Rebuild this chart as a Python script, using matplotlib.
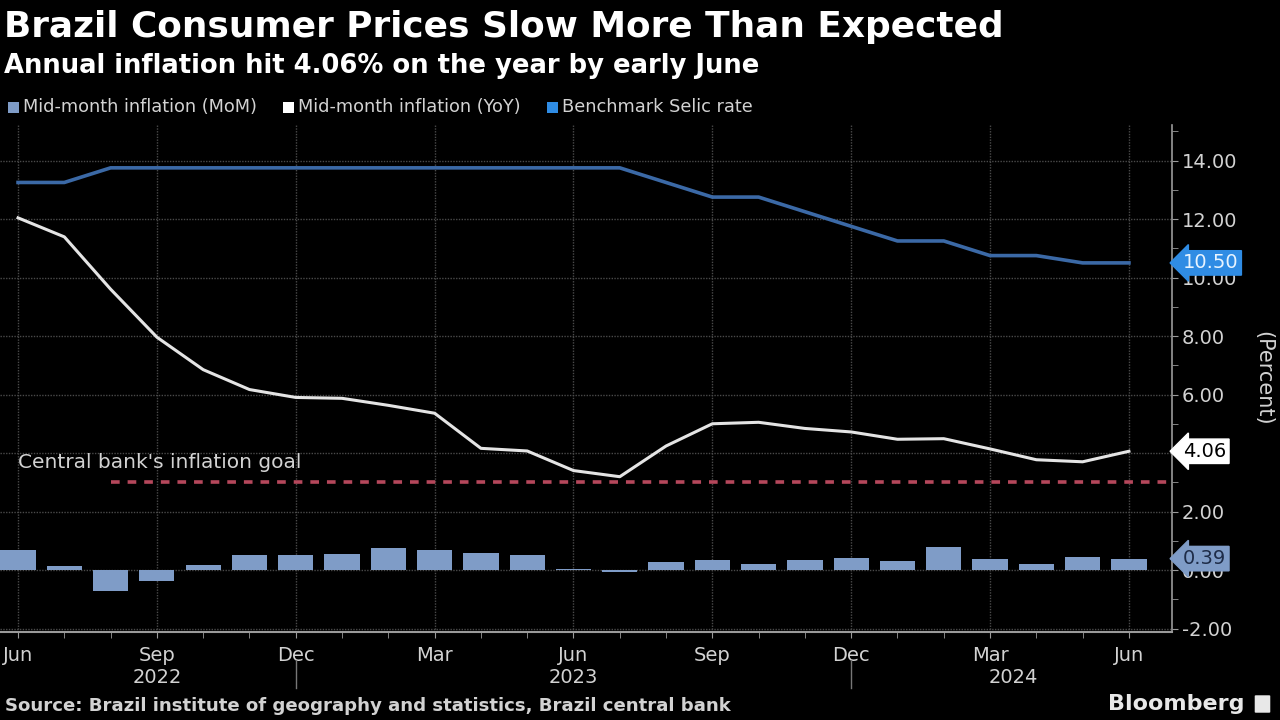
import matplotlib
matplotlib.use('Agg')
import matplotlib.pyplot as plt
import matplotlib.transforms as mtrans
from matplotlib.patches import Rectangle, FancyBboxPatch

# monthly data, Jun 2022 .. Jun 2024
months = ['Jun', 'Jul', 'Aug', 'Sep', 'Oct', 'Nov', 'Dec',
          'Jan', 'Feb', 'Mar', 'Apr', 'May', 'Jun', 'Jul', 'Aug', 'Sep', 'Oct', 'Nov', 'Dec',
          'Jan', 'Feb', 'Mar', 'Apr', 'May', 'Jun']
mom = [0.69, 0.13, -0.73, -0.37, 0.16, 0.53, 0.52, 0.55, 0.76, 0.69, 0.57, 0.51,
       0.04, -0.07, 0.28, 0.35, 0.21, 0.33, 0.40, 0.31, 0.78, 0.36, 0.21, 0.44, 0.39]
yoy = [12.04, 11.39, 9.60, 7.96, 6.85, 6.17, 5.90, 5.87, 5.63, 5.36, 4.16, 4.07,
       3.40, 3.19, 4.24, 5.00, 5.05, 4.84, 4.72, 4.47, 4.49, 4.14, 3.77, 3.70, 4.06]
selic = [13.25, 13.25, 13.75, 13.75, 13.75, 13.75, 13.75, 13.75, 13.75, 13.75, 13.75, 13.75,
         13.75, 13.75, 13.25, 12.75, 12.75, 12.25, 11.75, 11.25, 11.25, 10.75, 10.75, 10.50, 10.50]
goal = 3.0
years = [('2022', 3), ('2023', 12), ('2024', 21.5)]
year_breaks = [6, 18]
yticks = [-2, 0, 2, 4, 6, 8, 10, 12, 14]

bg = 'black'
c_bar = '#7f9cc7'
c_yoy = '#e4e4e4'
c_selic = '#3b69a6'
c_selic_tag = '#2f8ce4'
c_goal = '#b5475b'
c_grid = '#4a4a4a'
c_text = '#d2d2d2'

x = list(range(len(months)))

fig = plt.figure(figsize=(12.8, 7.2), dpi=100, facecolor=bg)
ax = fig.add_axes([0.0, 0.1222, 0.9156, 0.704], facecolor=bg)

ax.bar(x, mom, width=0.76, color=c_bar, zorder=2)
ax.plot(x, yoy, color=c_yoy, lw=2.2, zorder=3)
ax.plot(x, selic, color=c_selic, lw=2.6, zorder=3)
ax.hlines(goal, 2, 25, colors=c_goal, lw=2.6, linestyles=(0, (2.4, 2.2)), zorder=2)
ax.text(0, 3.69, "Central bank's inflation goal", color=c_text, fontsize=14.5,
        va='center', ha='left', zorder=4)

ax.set_xlim(-0.39, 24.93)
ax.set_ylim(-2.12, 15.21)

# axes styling
for s in ['left', 'top']:
    ax.spines[s].set_visible(False)
ax.spines['right'].set_color('#9a9a9a')
ax.spines['bottom'].set_color('#9a9a9a')
ax.spines['right'].set_linewidth(1.2)
ax.spines['bottom'].set_linewidth(1.5)

ax.yaxis.tick_right()
ax.set_yticks(yticks)
# 4.00 sits fully under the 4.06 tag in the original
ax.set_yticklabels(['' if v == 4 else '%.2f' % v for v in yticks])
ax.set_yticks(range(-1, 16, 2), minor=True)
ax.tick_params(axis='y', which='both', colors='#9a9a9a', labelcolor=c_text,
               labelsize=14, length=4, pad=3)
ax.yaxis.set_label_position('right')
ax.set_ylabel('(Percent)', color=c_text, fontsize=15, rotation=-90, labelpad=26)

major_x = list(range(0, 25, 3))
ax.set_xticks(major_x)
ax.set_xticklabels([months[i] for i in major_x])
ax.set_xticks(x, minor=True)
ax.tick_params(axis='x', which='both', colors='#9a9a9a', labelcolor=c_text,
               labelsize=14, length=4, pad=6)

ax.grid(True, which='major', color=c_grid, lw=1.0, ls=(0, (1, 1)), zorder=0)

trans = mtrans.blended_transform_factory(ax.transData, ax.transAxes)
for label, pos in years:
    ax.text(pos, -0.089, label, transform=trans, color=c_text, fontsize=14,
            ha='center', va='center')
for b in year_breaks:
    ax.plot([b, b], [-0.055, -0.11], transform=trans, color='#777777', lw=1, clip_on=False)

# value tags on the right axis
tags = [(selic[-1], c_selic_tag, '#e8f4ff'), (yoy[-1], 'white', 'black'), (mom[-1], c_bar, '#1e2c48')]
for val, fc, tc in tags:
    ax.annotate('%.2f' % val, xy=(1.0, val), xycoords=('axes fraction', 'data'),
                xytext=(8, 0), textcoords='offset points', ha='left', va='center',
                fontsize=14, color=tc, zorder=6, annotation_clip=False,
                bbox=dict(boxstyle='larrow,pad=0.14', fc=fc, ec=fc))

# titles
fig.text(0.003, 0.962, 'Brazil Consumer Prices Slow More Than Expected', color='white',
         fontsize=25.8, fontweight='bold', va='center', ha='left')
fig.text(0.003, 0.908, 'Annual inflation hit 4.06% on the year by early June', color='white',
         fontsize=18.6, fontweight='bold', va='center', ha='left')

# legend
legend_items = [('Mid-month inflation (MoM)', c_bar, 8), ('Mid-month inflation (YoY)', 'white', 283),
                ('Benchmark Selic rate', c_selic_tag, 547)]
for name, col, px in legend_items:
    fig.patches.append(Rectangle((px / 1280, 1 - 113 / 720), 11 / 1280, 11 / 720,
                                 transform=fig.transFigure, fc=col, ec='none'))
    fig.text((px + 15) / 1280, 1 - 107 / 720, name, color=c_text, fontsize=12.8,
             va='center', ha='left')

fig.text(0.004, 1 - 706 / 720, 'Source: Brazil institute of geography and statistics, Brazil central bank',
         color=c_text, fontsize=13.1, fontweight='bold', va='center', ha='left')
fig.text(1 - 36 / 1280, 1 - 704 / 720, 'Bloomberg', color='#e8e8e8', fontsize=16,
         fontweight='bold', va='center', ha='right')
fig.patches.append(FancyBboxPatch((1256 / 1280, 1 - 712 / 720), 13 / 1280, 16 / 720,
                                  boxstyle='round,pad=0.001', transform=fig.transFigure,
                                  fc='#e8e8e8', ec='none'))

fig.savefig('out.png', dpi=100, facecolor=bg)
